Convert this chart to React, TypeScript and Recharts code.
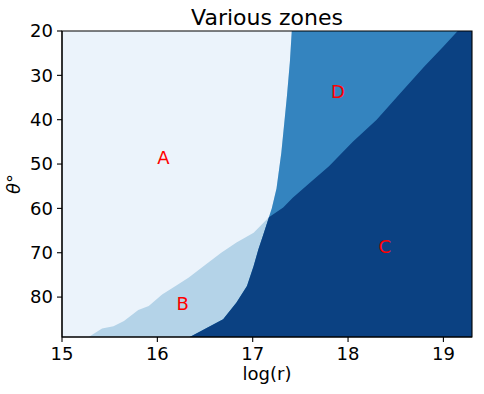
import React from 'react';
import { ComposedChart, Area, XAxis, YAxis, Scatter, ReferenceArea } from 'recharts';

// Axis domains and ticks
const X_DOMAIN: [number, number] = [15, 19.3];
const Y_DOMAIN: [number, number] = [20, 89];
const xTicks = [15, 16, 17, 18, 19];
const yTicks = [20, 30, 40, 50, 60, 70, 80];

// Boundary A / B (log r, theta)
const abX = [15.28, 15.42, 15.54, 15.65, 15.8, 15.91, 16.05, 16.22, 16.33, 16.47, 16.67, 16.83, 17.01, 17.17];
const abT = [89, 87.1, 86.6, 85.4, 82.9, 82.0, 79.4, 77.1, 75.6, 73.3, 70.0, 67.7, 65.5, 62.0];

// Boundary A / D
const adX = [17.17, 17.2, 17.25, 17.3, 17.33, 17.36, 17.39, 17.41];
const adT = [62.0, 60.0, 55.5, 47.5, 41.0, 34.5, 27.0, 20];

// Boundary B / C
const bcX = [16.34, 16.69, 16.83, 16.94, 17.01, 17.06, 17.11, 17.17];
const bcT = [89, 85.0, 81.2, 77.5, 73.0, 69.2, 66.0, 62.0];

// Boundary D / C
const dcX = [17.17, 17.32, 17.42, 17.6, 17.8, 18.05, 18.3, 18.55, 18.8, 19.0, 19.15];
const dcT = [62.0, 59.8, 57.6, 54.2, 50.5, 45.0, 40.0, 34.0, 28.0, 23.5, 20];

// Zone labels
const zoneNames = ['A', 'B', 'C', 'D'];
const zoneX = [16.0, 16.2, 18.32, 17.82];
const zoneT = [50, 83, 70, 35];

const COLORS: Record<string, string> = {
  zA: '#ebf3fb',
  zB: '#b4d3e8',
  zD: '#3484bf',
  zC: '#0b4182',
};

type P = { x: number; t: number };
const pts = (xs: number[], ts: number[]): P[] => xs.map((x, i) => ({ x, t: ts[i] }));

const topRight: P = { x: X_DOMAIN[1], t: Y_DOMAIN[0] };
const layerA: P[] = [{ x: X_DOMAIN[0], t: Y_DOMAIN[0] }, topRight];
const layerB: P[] = [...pts(abX, abT), ...pts(adX, adT).slice(1), topRight];
const layerD: P[] = [...pts(bcX, bcT), ...pts(adX, adT).slice(1), topRight];
const layerC: P[] = [...pts(bcX, bcT), ...pts(dcX, dcT).slice(1), topRight];

const layers: [string, P[]][] = [
  ['zA', layerA],
  ['zB', layerB],
  ['zD', layerD],
  ['zC', layerC],
];

const data = layers.flatMap(([key, arr]) => arr.map((p) => ({ x: p.x, [key]: p.t })));
const labelData = zoneNames.map((name, i) => ({ x: zoneX[i], y: zoneT[i], name }));

const FONT = 'DejaVu Sans';

const LabelShape = (props: any) => {
  const { cx, cy, payload } = props;
  return (
    <text x={cx} y={cy} fill="#ff0000" fontSize={18} fontFamily={FONT} textAnchor="start">
      {payload.name}
    </text>
  );
};

export default function App() {
  return (
    <div style={{ position: 'absolute', left: 0, top: 0, width: 484, height: 394, background: '#fff' }}>
      <ComposedChart
        width={484}
        height={394}
        data={data}
        margin={{ top: 31, right: 12, bottom: 0, left: 0 }}
      >
        <XAxis
          dataKey="x"
          type="number"
          domain={X_DOMAIN}
          ticks={xTicks}
          allowDataOverflow
          height={57}
          tickSize={5}
          tickMargin={5}
          axisLine={{ stroke: '#000', strokeWidth: 1.1 }}
          tickLine={{ stroke: '#000', strokeWidth: 1.1 }}
          tick={{ fill: '#000', fontSize: 18, fontFamily: FONT }}
        />
        <YAxis
          type="number"
          domain={Y_DOMAIN}
          ticks={yTicks}
          reversed
          allowDataOverflow
          width={62}
          tickSize={5}
          tickMargin={4}
          axisLine={{ stroke: '#000', strokeWidth: 1.1 }}
          tickLine={{ stroke: '#000', strokeWidth: 1.1 }}
          tick={{ fill: '#000', fontSize: 18, fontFamily: FONT }}
        />
        {layers.map(([key]) => (
          <Area
            key={key}
            dataKey={key}
            type="linear"
            baseValue={Y_DOMAIN[1]}
            connectNulls
            stroke="none"
            fill={COLORS[key]}
            fillOpacity={1}
            isAnimationActive={false}
            dot={false}
            activeDot={false}
          />
        ))}
        <Scatter data={labelData} dataKey="y" shape={LabelShape} isAnimationActive={false} />
        <ReferenceArea
          x1={X_DOMAIN[0]}
          x2={X_DOMAIN[1]}
          y1={Y_DOMAIN[0]}
          y2={Y_DOMAIN[1]}
          fill="none"
          fillOpacity={0}
          stroke="#000"
          strokeWidth={1.1}
        />
        <text x={267} y={25} textAnchor="middle" fontSize={22} fontFamily={FONT} fill="#000">
          Various zones
        </text>
        <text x={267} y={380} textAnchor="middle" fontSize={18} fontFamily={FONT} fill="#000">
          log(r)
        </text>
        <text
          x={20}
          y={184}
          textAnchor="middle"
          fontSize={18}
          fontFamily={FONT}
          fill="#000"
          transform="rotate(-90, 20, 184)"
        >
          <tspan fontStyle="italic">θ</tspan>°
        </text>
      </ComposedChart>
    </div>
  );
}
